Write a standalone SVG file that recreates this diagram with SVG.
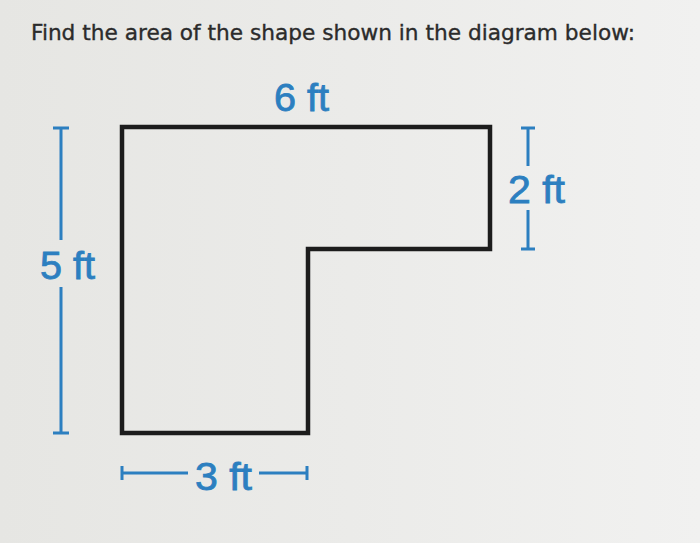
<svg xmlns="http://www.w3.org/2000/svg" width="700" height="543" viewBox="0 0 700 543">
  <defs>
    <linearGradient id="bg" x1="0" y1="0" x2="1" y2="0">
      <stop offset="0" stop-color="#e6e6e3"/>
      <stop offset="0.5" stop-color="#ebebe9"/>
      <stop offset="1" stop-color="#f1f1f0"/>
    </linearGradient>
    <style>
      .title { font-family: "DejaVu Sans", Verdana, sans-serif; font-size: 21px; fill: #2b2b2b; stroke: #2b2b2b; stroke-width: 0.35; }
      .dim { font-family: "Liberation Sans", Arial, sans-serif; font-size: 38px; fill: #2c7fc0; stroke: #2c7fc0; stroke-width: 0.8; }
      .dl { stroke: #2c7fc0; stroke-width: 3; fill: none; }
      .shape { stroke: #1c1c1c; stroke-width: 4.5; fill: none; stroke-linejoin: miter; }
    </style>
  </defs>
  <rect x="0" y="0" width="700" height="543" fill="url(#bg)"/>
  <text class="title" x="31" y="40" textLength="604" lengthAdjust="spacingAndGlyphs">Find the area of the shape shown in the diagram below:</text>

  <g id="shape">
    <path class="shape" d="M122,127 H490 V249 H308 V433 H122 Z"/>
  </g>

  <g id="connectors">
    <!-- left 5 ft -->
    <path class="dl" d="M61,128 V240 M61,287 V433 M53,128 H69 M53,433 H69"/>
    <!-- right 2 ft -->
    <path class="dl" d="M528,128 V166 M528,210 V249 M521,128 H535 M521,249 H535"/>
    <!-- bottom 3 ft -->
    <path class="dl" d="M122,473 H188 M259,473 H307 M122,466 V480 M307,466 V480"/>
  </g>

  <g id="label-6ft"><text class="dim" x="274" y="111" textLength="55" lengthAdjust="spacingAndGlyphs">6 ft</text></g>
  <g id="label-5ft"><text class="dim" x="40" y="279" textLength="55" lengthAdjust="spacingAndGlyphs">5 ft</text></g>
  <g id="label-2ft"><text class="dim" x="508" y="203" textLength="57" lengthAdjust="spacingAndGlyphs">2 ft</text></g>
  <g id="label-3ft"><text class="dim" x="195" y="490" textLength="57" lengthAdjust="spacingAndGlyphs">3 ft</text></g>
</svg>
